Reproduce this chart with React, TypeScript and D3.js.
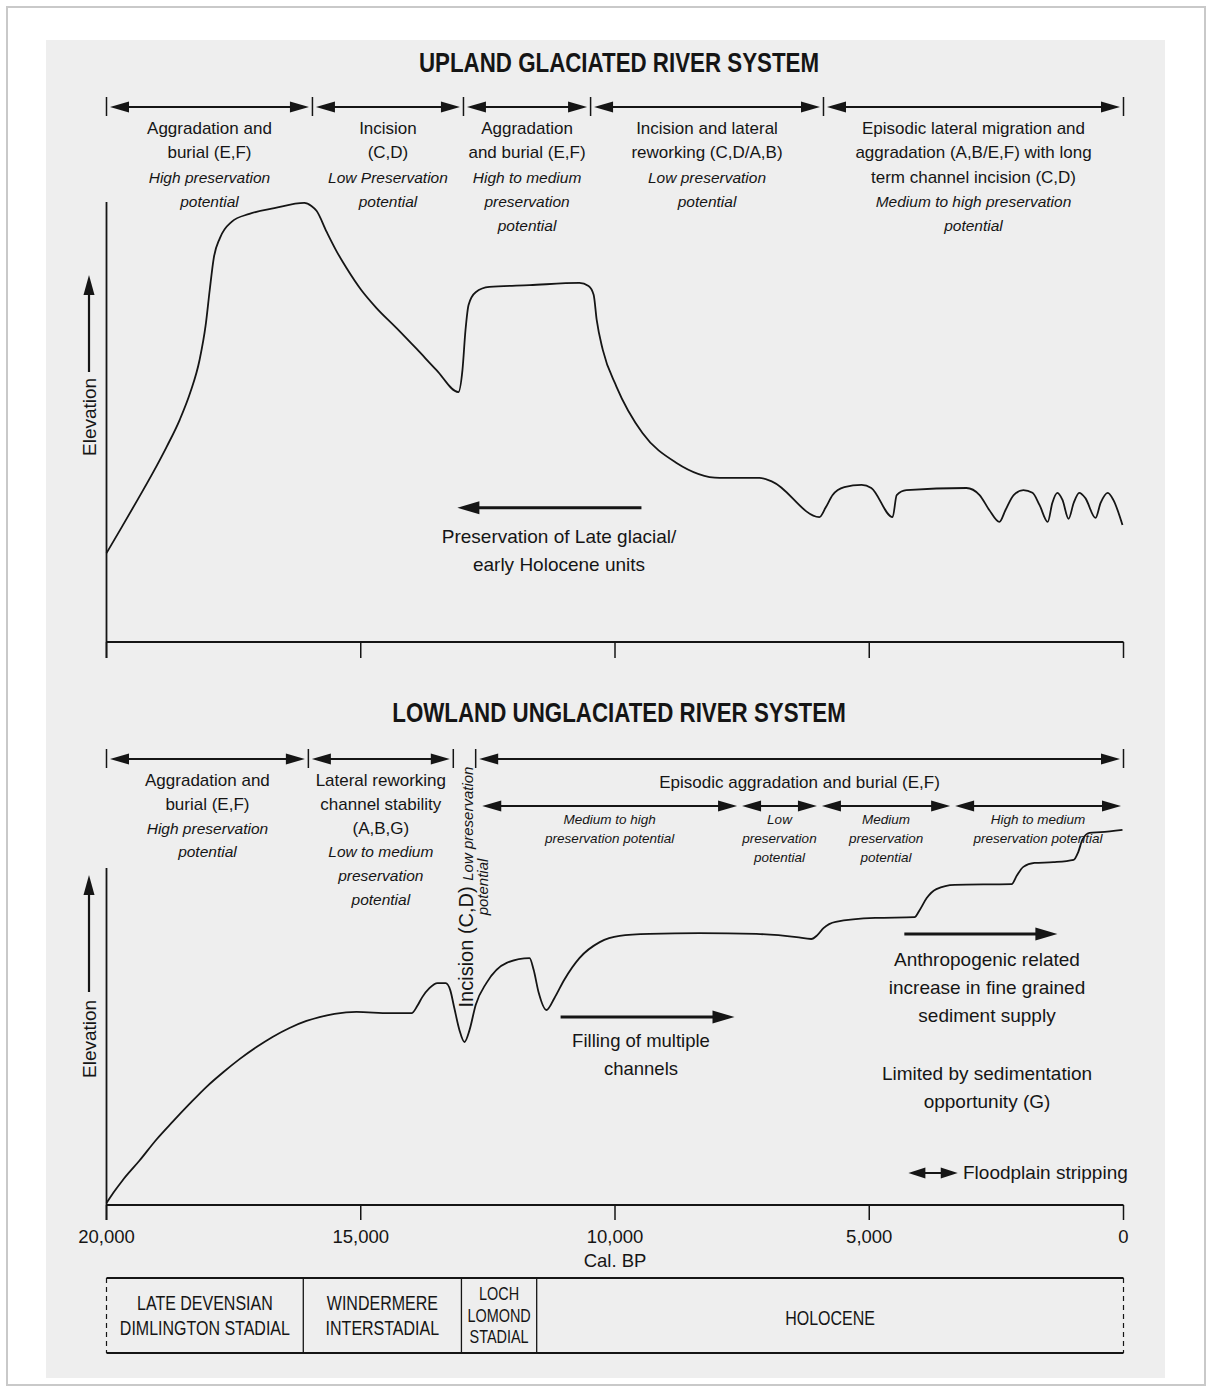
import React from 'react';
import * as d3 from 'd3';

// ---------- DATA ----------
// Upland glaciated river system: time (years Cal. BP) and relative elevation (0-100)
const topYears = [20000, 19700, 19390, 19100, 18820, 18560, 18350, 18170, 18050, 17970, 17890, 17770, 17540, 17190, 16700,
  16110, 15970, 15870, 15670, 15480, 15280, 14990, 14690, 14300, 13900, 13510, 13080,
  13000, 12940, 12880, 12740, 12470, 11680, 10700, 10520, 10420, 10360, 10240, 9970, 9460, 8790, 7940, 7160, 6900,
  5980, 5860, 5720, 5490, 5150, 4960, 4540, 4460, 4270, 3090, 2830, 2640, 2440, 2320, 2160, 1970, 1790, 1650,
  1490, 1400, 1300, 1200, 1080, 980, 870, 750, 550, 450, 310, 200, 20];
const topElev = [20.2, 26.1, 32.3, 38.2, 44.3, 50.5, 56.8, 64.1, 72.0, 80.0, 87.3, 91.8, 95.5, 97.3, 98.6,
  99.8, 99.1, 98.0, 93.2, 88.9, 85.0, 80.0, 75.9, 71.4, 66.6, 61.8, 56.8,
  61.8, 70.9, 76.6, 79.5, 80.7, 81.1, 81.6, 80.9, 78.9, 73.2, 66.4, 58.0, 47.5, 40.7, 37.3, 37.3, 36.4,
  28.4, 30.5, 33.4, 35.2, 35.7, 35.0, 28.4, 33.4, 34.5, 35.0, 33.4, 30.0, 27.3, 30.0, 33.4, 34.5, 33.9, 31.1,
  27.3, 31.6, 33.9, 32.3, 28.0, 31.6, 33.9, 32.7, 28.2, 31.6, 33.9, 32.3, 26.6];

// Lowland unglaciated river system
const botYears = [20000, 19862, 19685, 19350, 19017, 18702, 18368, 18033, 17699, 17384, 17050, 16735, 16401, 16067, 15811, 15516,
  15084, 14430, 14000, 13890, 13790, 13650, 13490, 13330, 13240, 13160, 13060, 12960, 12860, 12740, 12530, 12130,
  11680, 11600, 11500, 11350, 11190, 11000, 10700, 10300, 9910, 9320, 8340, 7220, 6430, 6140, 6020, 5900, 5660,
  4880, 4110, 4010, 3870, 3680, 3320, 2200, 2100, 1970, 1750, 1380, 980, 890, 810, 670, 450, 20];
const botElev = [0.5, 3.2, 6.3, 11.4, 16.8, 21.3, 25.9, 30.3, 34.1, 37.4, 40.5, 43.1, 45.4, 47.2, 48.2, 49.0,
  49.5, 49.2, 49.2, 51.0, 53.3, 55.6, 56.9, 56.9, 55.1, 50.5, 44.9, 41.8, 44.9, 51.3, 56.9, 62.1,
  63.3, 60.3, 54.4, 50.0, 53.1, 57.7, 63.3, 67.4, 69.0, 69.5, 69.7, 69.5, 68.7, 68.2, 69.2, 71.0, 72.6,
  73.6, 73.8, 75.6, 78.7, 81.0, 82.1, 82.3, 84.4, 86.7, 87.7, 87.9, 88.5, 90.5, 93.6, 95.4, 95.6, 96.2];

const xTicks = [20000, 15000, 10000, 5000, 0];

// Phase boundaries (years BP)
const topPhaseBounds = [20000, 15950, 12980, 10480, 5900, 0];
const topPhaseMain = [
  ['Aggradation and', 'burial (E,F)'],
  ['Incision', '(C,D)'],
  ['Aggradation', 'and burial (E,F)'],
  ['Incision and lateral', 'reworking (C,D/A,B)'],
  ['Episodic lateral migration and', 'aggradation (A,B/E,F) with long', 'term channel incision (C,D)'],
];
const topPhaseItalic = [
  ['High preservation', 'potential'],
  ['Low Preservation', 'potential'],
  ['High to medium', 'preservation', 'potential'],
  ['Low preservation', 'potential'],
  ['Medium to high preservation', 'potential'],
];

const botPhaseBounds = [20000, 16030, 13180, 12740, 0];
const botPhaseArrows = [true, true, false, true];
const botPhaseMain = [
  ['Aggradation and', 'burial (E,F)'],
  ['Lateral reworking', 'channel stability', '(A,B,G)'],
  [],
  ['Episodic aggradation and burial (E,F)'],
];
const botPhaseItalic = [
  ['High preservation', 'potential'],
  ['Low to medium', 'preservation', 'potential'],
  [],
  [],
];

const botSubBounds = [12660, 7550, 5980, 3360, 0];
const botSubItalic = [
  ['Medium to high', 'preservation potential'],
  ['Low', 'preservation', 'potential'],
  ['Medium', 'preservation', 'potential'],
  ['High to medium', 'preservation potential'],
];

const stageBounds = [20000, 16130, 13020, 11540, 0];
const stageLabels = [
  ['LATE DEVENSIAN', 'DIMLINGTON STADIAL'],
  ['WINDERMERE', 'INTERSTADIAL'],
  ['LOCH', 'LOMOND', 'STADIAL'],
  ['HOLOCENE'],
];

// annotation arrows: [fromYear, toYear, elevation]
const preservationArrow = [9480, 13100, 30.5];
const fillingArrow = [11070, 7650, 48.2];
const anthropArrow = [4310, 1300, 69.5];
const floodplainArrow = [4230, 3260, 8.2];

// ---------- LAYOUT ----------
const W = 1213, H = 1393;
const FONT = "'Liberation Sans', Arial, Helvetica, sans-serif";
const INK = '#151515';

const x = d3.scaleLinear().domain([20000, 0]).range([106.5, 1123.5]);
const yTop = d3.scaleLinear().domain([0, 100]).range([642, 202]);
const yBot = d3.scaleLinear().domain([0, 100]).range([1205, 815]);
const fmt = d3.format(',');

function head(tx: number, ty: number, dir: number, len: number, hw: number) {
  return `${tx},${ty} ${tx - dir * len},${ty - hw} ${tx - dir * len},${ty + hw}`;
}

function Arrow({ x1, x2, y, left = true, right = true, len = 19, hw = 5.5, sw = 2 }: any) {
  const a = Math.min(x1, x2), b = Math.max(x1, x2);
  return (
    <g>
      <line x1={a + (left ? len * 0.6 : 0)} x2={b - (right ? len * 0.6 : 0)} y1={y} y2={y} stroke={INK} strokeWidth={sw} />
      {left && <polygon points={head(a, y, -1, len, hw)} fill={INK} />}
      {right && <polygon points={head(b, y, 1, len, hw)} fill={INK} />}
    </g>
  );
}

function VArrowUp({ cx, y1, y2, len = 20, hw = 5.5, sw = 2.2 }: any) {
  return (
    <g>
      <line x1={cx} x2={cx} y1={y1} y2={y2 + len * 0.6} stroke={INK} strokeWidth={sw} />
      <polygon points={`${cx},${y2} ${cx - hw},${y2 + len} ${cx + hw},${y2 + len}`} fill={INK} />
    </g>
  );
}

function TextBlock({ cx, y0, dy, main, italic, size = 17, isize = 15.5 }: any) {
  const all = [...main.map((t: string) => ({ t, it: false })), ...italic.map((t: string) => ({ t, it: true }))];
  return (
    <g>
      {all.map((l: any, i: number) => (
        <text key={i} x={cx} y={y0 + i * dy} textAnchor="middle" fontFamily={FONT}
          fontSize={l.it ? isize : size} fontStyle={l.it ? 'italic' : 'normal'} fill={INK}>{l.t}</text>
      ))}
    </g>
  );
}

function Cond({ cx, y, size, sx, bold = false, children }: any) {
  return (
    <text transform={`translate(${cx},${y}) scale(${sx},1)`} textAnchor="middle" fontFamily={FONT}
      fontSize={size} fontWeight={bold ? 'bold' : 'normal'} fill={INK}>{children}</text>
  );
}

function PhaseRow({ bounds, y, ticks = true, arrows, gap = 3.5 }: any) {
  return (
    <g>
      {ticks && bounds.map((b: number, i: number) => (
        <line key={'t' + i} x1={x(b)} x2={x(b)} y1={y - 10} y2={y + 9} stroke={INK} strokeWidth={1.5} />
      ))}
      {bounds.slice(0, -1).map((b: number, i: number) => (
        (!arrows || arrows[i]) ? <Arrow key={'a' + i} x1={x(b) + gap} x2={x(bounds[i + 1]) - gap} y={y} /> : null
      ))}
    </g>
  );
}

export default function App() {
  const pts = (ys: number[], es: number[]) => ys.map((t, i) => [t, es[i]] as [number, number]);
  const topLine = d3.line<[number, number]>().x(d => x(d[0])).y(d => yTop(d[1])).curve(d3.curveMonotoneX);
  const botLine = d3.line<[number, number]>().x(d => x(d[0])).y(d => yBot(d[1])).curve(d3.curveMonotoneX);

  const mid = (b: number[], i: number) => (x(b[i]) + x(b[i + 1])) / 2;

  return (
    <svg width={W} height={H} style={{ position: 'absolute', left: 0, top: 0, display: 'block' }}>
      <rect x={0} y={0} width={W} height={H} fill="#ffffff" />
      <rect x={7} y={7} width={1198} height={1378} fill="none" stroke="#c9c9c9" strokeWidth={2} />
      <rect x={46} y={40} width={1119} height={1338} fill="#eeeeee" />

      {/* ===== TOP PANEL ===== */}
      <Cond cx={619} y={72} size={27} sx={0.827} bold>UPLAND GLACIATED RIVER SYSTEM</Cond>
      <PhaseRow bounds={topPhaseBounds} y={107} />
      {topPhaseMain.map((m, i) => (
        <TextBlock key={i} cx={mid(topPhaseBounds, i)} y0={134} dy={24.3} main={m} italic={topPhaseItalic[i]} />
      ))}

      {/* axes */}
      <line x1={x(20000)} x2={x(20000)} y1={yTop(100)} y2={658} stroke={INK} strokeWidth={1.8} />
      <line x1={x(20000)} x2={x(0)} y1={yTop(0)} y2={yTop(0)} stroke={INK} strokeWidth={1.8} />
      {xTicks.map(t => (
        <line key={t} x1={x(t)} x2={x(t)} y1={yTop(0)} y2={658} stroke={INK} strokeWidth={1.5} />
      ))}
      <text transform="translate(96,456) rotate(-90)" fontFamily={FONT} fontSize={19} fill={INK}>Elevation</text>
      <VArrowUp cx={89} y1={372} y2={275} />

      <path d={topLine(pts(topYears, topElev)) || ''} fill="none" stroke={INK} strokeWidth={1.8} strokeLinejoin="round" />

      <Arrow x1={x(preservationArrow[0])} x2={x(preservationArrow[1])} y={yTop(preservationArrow[2])} right={false} len={22} hw={6.5} sw={3} />
      <text x={559} y={543} textAnchor="middle" fontFamily={FONT} fontSize={19} fill={INK}>Preservation of Late glacial/</text>
      <text x={559} y={571} textAnchor="middle" fontFamily={FONT} fontSize={19} fill={INK}>early Holocene units</text>

      {/* ===== BOTTOM PANEL ===== */}
      <Cond cx={619} y={722} size={27} sx={0.827} bold>LOWLAND UNGLACIATED RIVER SYSTEM</Cond>
      <PhaseRow bounds={botPhaseBounds} y={759} arrows={botPhaseArrows} />
      {botPhaseMain.map((m, i) => (
        (m.length || botPhaseItalic[i].length) ?
          <TextBlock key={i} cx={mid(botPhaseBounds, i)} y0={i === 3 ? 788 : 786} dy={23.8} main={m} italic={botPhaseItalic[i]} /> : null
      ))}
      <PhaseRow bounds={botSubBounds} y={806} ticks={false} gap={2.5} />
      {botSubItalic.map((m, i) => (
        <TextBlock key={i} cx={mid(botSubBounds, i)} y0={824} dy={19} main={[]} italic={m} isize={13.5} />
      ))}

      {/* rotated incision label */}
      <text transform="translate(473,887) rotate(-90)" textAnchor="middle" fontFamily={FONT} fill={INK}>
        <tspan fontSize={20}>Incision (C,D) </tspan>
        <tspan fontSize={15} fontStyle="italic">Low preservation</tspan>
      </text>
      <text transform="translate(488,887) rotate(-90)" textAnchor="middle" fontFamily={FONT} fontSize={15} fontStyle="italic" fill={INK}>potential</text>

      {/* axes */}
      <line x1={x(20000)} x2={x(20000)} y1={868} y2={1220} stroke={INK} strokeWidth={1.8} />
      <line x1={x(20000)} x2={x(0)} y1={yBot(0)} y2={yBot(0)} stroke={INK} strokeWidth={1.8} />
      {xTicks.map(t => (
        <line key={t} x1={x(t)} x2={x(t)} y1={yBot(0)} y2={1220} stroke={INK} strokeWidth={1.5} />
      ))}
      {xTicks.map(t => (
        <text key={'l' + t} x={x(t)} y={1243} textAnchor="middle" fontFamily={FONT} fontSize={18.5} fill={INK}>{fmt(t)}</text>
      ))}
      <text x={x(10000)} y={1267} textAnchor="middle" fontFamily={FONT} fontSize={18.5} fill={INK}>Cal. BP</text>
      <text transform="translate(96,1078) rotate(-90)" fontFamily={FONT} fontSize={19} fill={INK}>Elevation</text>
      <VArrowUp cx={89} y1={992} y2={875} />

      <path d={botLine(pts(botYears, botElev)) || ''} fill="none" stroke={INK} strokeWidth={1.8} strokeLinejoin="round" />

      <Arrow x1={x(fillingArrow[0])} x2={x(fillingArrow[1])} y={yBot(fillingArrow[2])} left={false} len={22} hw={6.5} sw={3} />
      <text x={641} y={1047} textAnchor="middle" fontFamily={FONT} fontSize={18.5} fill={INK}>Filling of multiple</text>
      <text x={641} y={1075} textAnchor="middle" fontFamily={FONT} fontSize={18.5} fill={INK}>channels</text>

      <Arrow x1={x(anthropArrow[0])} x2={x(anthropArrow[1])} y={yBot(anthropArrow[2])} left={false} len={22} hw={6.5} sw={3} />
      <text x={987} y={966} textAnchor="middle" fontFamily={FONT} fontSize={19} fill={INK}>Anthropogenic related</text>
      <text x={987} y={994} textAnchor="middle" fontFamily={FONT} fontSize={19} fill={INK}>increase in fine grained</text>
      <text x={987} y={1022} textAnchor="middle" fontFamily={FONT} fontSize={19} fill={INK}>sediment supply</text>
      <text x={987} y={1080} textAnchor="middle" fontFamily={FONT} fontSize={19} fill={INK}>Limited by sedimentation</text>
      <text x={987} y={1108} textAnchor="middle" fontFamily={FONT} fontSize={19} fill={INK}>opportunity (G)</text>

      <Arrow x1={x(floodplainArrow[0])} x2={x(floodplainArrow[1])} y={yBot(floodplainArrow[2])} len={17} hw={5.5} sw={2} />
      <text x={963} y={1179} fontFamily={FONT} fontSize={19} fill={INK}>Floodplain stripping</text>

      {/* ===== STAGE TABLE ===== */}
      <line x1={x(20000)} x2={x(0)} y1={1278} y2={1278} stroke={INK} strokeWidth={1.8} />
      <line x1={x(20000)} x2={x(0)} y1={1353} y2={1353} stroke={INK} strokeWidth={2} />
      <line x1={x(20000)} x2={x(20000)} y1={1278} y2={1353} stroke={INK} strokeWidth={1.2} strokeDasharray="5,4" />
      <line x1={x(0)} x2={x(0)} y1={1278} y2={1353} stroke={INK} strokeWidth={1.2} strokeDasharray="5,4" />
      {stageBounds.slice(1, -1).map(b => (
        <line key={b} x1={x(b)} x2={x(b)} y1={1278} y2={1353} stroke={INK} strokeWidth={1.3} />
      ))}
      {stageLabels.map((ls, i) => {
        const n = ls.length;
        const base = n === 3 ? 1300 : n === 2 ? 1310 : 1325;
        const step = n === 3 ? 21.5 : 25;
        const size = n === 3 ? 19 : 20;
        const sx = n === 3 ? 0.76 : 0.8;
        return ls.map((l, j) => (
          <Cond key={i + '-' + j} cx={mid(stageBounds, i)} y={base + j * step} size={size} sx={sx}>{l}</Cond>
        ));
      })}
    </svg>
  );
}
